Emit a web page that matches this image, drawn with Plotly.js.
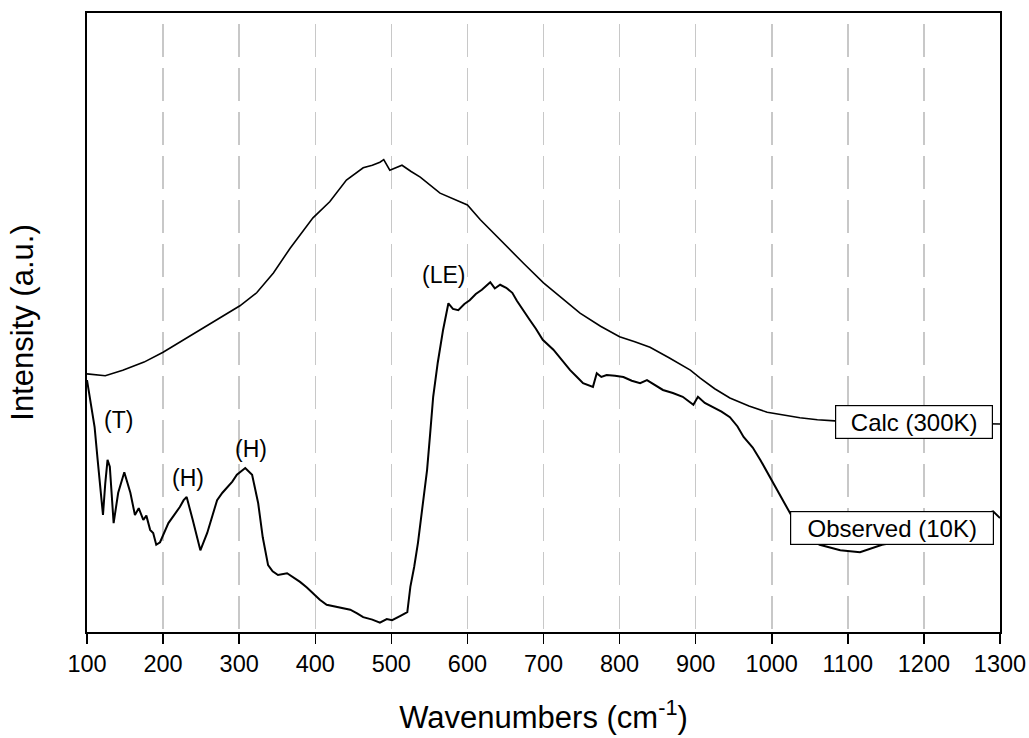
<!DOCTYPE html>
<html>
<head>
<meta charset="utf-8">
<script src="https://cdn.plot.ly/plotly-3.0.1.min.js"></script>
<style>html,body{margin:0;padding:0;background:#fff;}#chart{width:1029px;height:738px;}</style>
</head>
<body>
<div id="chart"></div>
<script>
// Calculated spectrum (300K), arbitrary intensity units
const calcX = [100,124,147,175,200,245,284,301,323,345,367,397,419,441,463,475,485,490,498,505,514,526,538,564,583,600,617,647,675,700,725,748,775,800,820,840,865,893,906,925,945,970,994,1015,1037,1060,1083,1150,1200,1250,1291,1300];
const calcY = [41.7,41.4,42.3,43.6,45.2,48.5,51.4,52.7,54.8,58.0,62.0,66.9,69.5,73.0,75.0,75.4,75.9,76.3,74.6,75.0,75.4,74.4,73.5,70.9,69.9,69.0,66.6,62.8,59.4,56.4,53.9,51.5,49.4,47.7,46.9,46.0,44.3,42.3,41.0,39.3,37.8,36.5,35.5,35.0,34.6,34.3,34.1,33.9,33.8,33.7,33.6,33.6];

// Observed spectrum (10K), arbitrary intensity units
const obsX = [100,104,110,114,121,124,127,130,135,141,149,157,163,168,174,178,183,187,191,196,202,207,214,222,227,231,239,249,258,265,271,278,284,291,297,308,317,325,331,338,344,351,363,372,380,389,397,406,415,433,446,455,463,475,485,494,501,512,521,525,530,535,541,547,551,555,561,568,575,581,588,596,603,611,619,630,636,643,651,659,665,672,682,690,699,713,724,735,744,752,765,770,776,783,794,805,816,827,836,847,857,870,883,897,903,912,923,934,945,955,963,975,985,1002,1021,1040,1063,1090,1116,1145,1180,1230,1270,1291,1300];
const obsY = [40.7,37.5,33.1,27.8,18.9,24.0,27.8,26.7,17.6,22.5,25.8,22.5,18.9,20.0,18.1,18.8,16.5,16.0,14.1,14.5,16.2,17.6,18.8,20.2,21.3,21.8,18.1,13.2,16.0,19.0,21.3,22.5,23.4,24.3,25.4,26.5,25.4,20.8,15.3,10.8,9.8,9.2,9.5,8.8,8.1,7.2,6.3,5.2,4.4,3.9,3.6,3.0,2.4,2.0,1.5,2.1,1.9,2.6,3.2,7.3,10.5,14.4,20.0,26.2,32.0,38.0,43.5,48.8,53.1,52.2,52.0,53.0,53.6,54.6,55.3,56.5,55.5,56.1,55.6,54.8,53.5,52.3,50.4,49.0,47.2,45.6,44.0,42.3,41.2,40.2,39.6,41.8,41.2,41.5,41.4,41.2,40.6,40.2,40.7,39.8,39.1,38.6,38.0,36.7,38.0,37.0,36.3,35.6,34.7,33.2,31.5,29.8,27.8,24.1,20.0,15.7,14.1,13.2,12.9,14.1,14.9,16.8,18.7,19.5,18.4];

// Text labels
const peakLabels = ['(T)','(H)','(H)','(LE)'];
const peakLabelX = [141,233,316,568];
const peakLabelY = [34.3,24.9,29.6,57.7];
const seriesLabels = ['Calc (300K)','Observed (10K)'];
const seriesLabelX = [1187,1158];
const seriesLabelY = [34.0,16.8];
const xTicks = [100,200,300,400,500,600,700,800,900,1000,1100,1200,1300];

const FONT = 'Liberation Sans, Arial, sans-serif';

const traces = [
  {x: calcX, y: calcY, type: 'scatter', mode: 'lines', name: seriesLabels[0],
   line: {color: '#000', width: 1.6}},
  {x: obsX, y: obsY, type: 'scatter', mode: 'lines', name: seriesLabels[1],
   line: {color: '#000', width: 2}}
];

const annotations = [];
for (let i = 0; i < peakLabels.length; i++) {
  annotations.push({x: peakLabelX[i], y: peakLabelY[i], xref: 'x', yref: 'y',
    text: peakLabels[i], showarrow: false, font: {family: FONT, size: 23, color: '#000'}});
}
const boxW = [154, 200];
for (let i = 0; i < seriesLabels.length; i++) {
  annotations.push({x: seriesLabelX[i], y: seriesLabelY[i], xref: 'x', yref: 'y',
    text: seriesLabels[i], showarrow: false, bgcolor: '#fff', bordercolor: '#000',
    borderwidth: 1.2, borderpad: 1, width: boxW[i], height: 30, align: 'center',
    font: {family: FONT, size: 24, color: '#000'}});
}

const layout = {
  width: 1029, height: 738,
  margin: {l: 87, r: 29, t: 13, b: 106},
  paper_bgcolor: '#fff', plot_bgcolor: '#fff',
  showlegend: false,
  font: {family: FONT, color: '#000'},
  xaxis: {
    range: [100, 1300], tickvals: xTicks, ticktext: xTicks.map(String),
    showgrid: true, gridcolor: '#c8c8c8', gridwidth: 1.5, griddash: '0px,11px,33px,0px',
    zeroline: false, showline: true, linecolor: '#000', linewidth: 1.8, mirror: true,
    ticks: 'outside', ticklen: 10, tickwidth: 1.5, tickcolor: '#000',
    tickfont: {family: FONT, size: 23.5, color: '#000'},
    title: {text: 'Wavenumbers (cm<sup>-1</sup>)', font: {family: FONT, size: 31, color: '#000'}, standoff: 30}
  },
  yaxis: {
    range: [0, 100], showticklabels: false, ticks: '', showgrid: false,
    zeroline: false, showline: true, linecolor: '#000', linewidth: 1.8, mirror: true,
    title: {text: 'Intensity (a.u.)', font: {family: FONT, size: 31, color: '#000'}, standoff: 42}
  },
  annotations: annotations
};

Plotly.newPlot('chart', traces, layout, {staticPlot: true, displayModeBar: false});
</script>
</body>
</html>
